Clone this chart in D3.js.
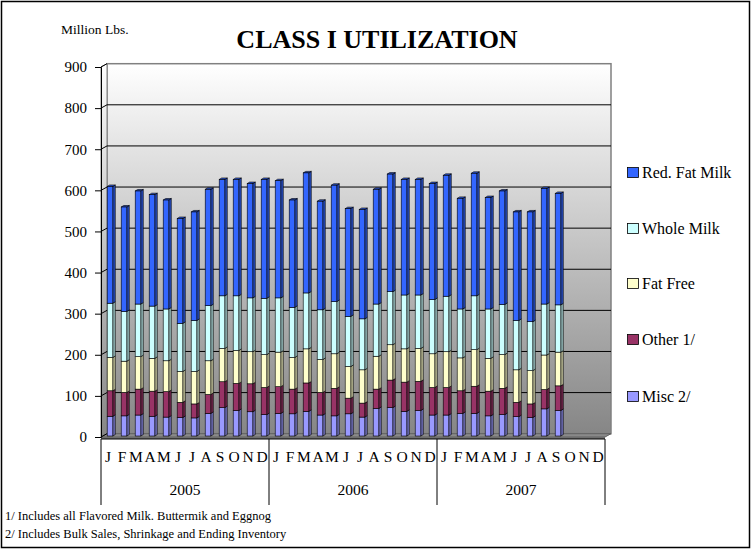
<!DOCTYPE html>
<html>
<head>
<script src="https://d3js.org/d3.v7.min.js"></script>
<style>
  body { margin: 0; background: #fff; }
  svg text { font-family: "Liberation Serif", "DejaVu Serif", serif !important; fill: #000; }
</style>
</head>
<body>
<div id="chart"></div>
<script>
// data (million lbs), Jan 2005 .. Sep 2007
const years = ["2005", "2006", "2007"];
const monthLetters = ["J","F","M","A","M","J","J","A","S","O","N","D"];
const yTicks = [0, 100, 200, 300, 400, 500, 600, 700, 800, 900];
const seriesNames = ["Misc 2/", "Other 1/", "Fat Free", "Whole Milk", "Red. Fat Milk"];
const seriesColors = ["#9999ff", "#993366", "#ffffcc", "#ccffff", "#3366ff"];

const misc      = [48,49,51,48,46,45,44,55,69,62,59,52, 55,54,60,51,49,54,46,67,69,60,62,51, 51,55,55,49,52,47,45,66,62];
const other     = [62,57,63,61,62,37,34,46,63,66,68,66, 65,60,69,55,67,38,34,47,67,71,71,67, 67,55,66,60,64,35,33,47,60];
const fatFree   = [81,76,79,80,75,75,79,82,81,80,78,80, 84,77,83,80,84,77,81,80,86,81,80,82, 87,80,89,80,82,79,81,84,82];
const wholeMilk = [132,121,128,127,126,117,124,134,128,133,131,137, 132,122,136,121,127,122,124,127,129,131,130,132, 135,119,131,120,122,120,119,124,115];
const redFat    = [284,254,275,271,265,255,264,283,283,283,278,289, 285,261,292,264,283,262,266,279,286,281,281,282, 294,269,298,271,276,264,267,281,271];

const width = 751, height = 550;
const depthX = 6, depthY = -3.3;      // offset of the back wall
const barDX = 2.5, barDY = -1.5;      // bar side/top depth

const svg = d3.select("#chart").append("svg")
  .attr("width", width).attr("height", height)
  .attr("font-family", "Liberation Serif, serif");

const defs = svg.append("defs");
const grad = defs.append("linearGradient").attr("id", "wall")
  .attr("x1", 0).attr("y1", 0).attr("x2", 0).attr("y2", 1);
grad.append("stop").attr("offset", "0%").attr("stop-color", "#ffffff");
grad.append("stop").attr("offset", "100%").attr("stop-color", "#868686");

// outer frame
svg.append("rect").attr("x", 1.5).attr("y", 1.5).attr("width", width - 3).attr("height", height - 4)
  .attr("fill", "none").attr("stroke", "#000").attr("stroke-width", 1.5);

const y = d3.scaleLinear().domain([0, 900]).range([437, 67]);
const x = d3.scaleBand().domain(d3.range(36)).range([101, 605]);

const x0 = x.range()[0], x1 = x.range()[1];
const yTop = y(900), yBot = y(0);

// back wall
svg.append("rect")
  .attr("x", x0 + depthX).attr("y", yTop + depthY)
  .attr("width", x1 - x0).attr("height", yBot - yTop)
  .attr("fill", "url(#wall)").attr("stroke", "#808080").attr("stroke-width", 1.5);

// left side wall
svg.append("path")
  .attr("d", `M${x0},${yTop}L${x0 + depthX},${yTop + depthY}L${x0 + depthX},${yBot + depthY}L${x0},${yBot}Z`)
  .attr("fill", "url(#wall)").attr("stroke", "#808080").attr("stroke-width", 1);

// floor
svg.append("path")
  .attr("d", `M${x0},${yBot}L${x0 + depthX},${yBot + depthY}L${x1 + depthX},${yBot + depthY}L${x1},${yBot}Z`)
  .attr("fill", "#8a8a8a").attr("stroke", "#606060").attr("stroke-width", 1);
svg.append("rect").attr("x", x0).attr("y", yBot).attr("width", x1 - x0).attr("height", 2)
  .attr("fill", "#6e6e6e");

// gridlines
yTicks.filter(v => v > 0 && v < 900).forEach(v => {
  svg.append("line")
    .attr("x1", x0 + depthX).attr("x2", x1 + depthX)
    .attr("y1", y(v) + depthY).attr("y2", y(v) + depthY)
    .attr("stroke", "#000").attr("stroke-width", 1);
});
yTicks.forEach(v => {
  svg.append("line")
    .attr("x1", x0).attr("y1", y(v))
    .attr("x2", x0 + depthX).attr("y2", y(v) + depthY)
    .attr("stroke", "#000").attr("stroke-width", 1);
});

// y axis
const yAxis = svg.append("g")
  .attr("transform", `translate(${x0},0)`)
  .call(d3.axisLeft(y).tickValues(yTicks).tickSize(6).tickPadding(8));
yAxis.attr("font-family", null);
yAxis.select(".domain").attr("stroke", "#000");
yAxis.selectAll("line").attr("stroke", "#000");
yAxis.selectAll("text").style("font-size", "15px");

// stacked bars
const table = misc.map((d, i) => ({
  i: i, "Misc 2/": misc[i], "Other 1/": other[i], "Fat Free": fatFree[i],
  "Whole Milk": wholeMilk[i], "Red. Fat Milk": redFat[i]
}));
const stack = d3.stack().keys(seriesNames)(table);
const color = d3.scaleOrdinal().domain(seriesNames).range(seriesColors);
const barW = 5.6;

stack.forEach((layer, li) => {
  const g = svg.append("g");
  const c = color(layer.key);
  const side = d3.color(c).darker(0.9).formatHex();
  const top = d3.color(c).darker(0.5).formatHex();
  layer.forEach(seg => {
    const i = seg.data.i;
    const bx = x(i) + x.bandwidth() / 2 + 2 - barW / 2;
    const y0 = y(seg[0]) - 1, y1 = y(seg[1]) - 1;
    g.append("path")
      .attr("d", `M${bx + barW},${y1}L${bx + barW + barDX},${y1 + barDY}L${bx + barW + barDX},${y0 + barDY}L${bx + barW},${y0}Z`)
      .attr("fill", side).attr("stroke", "#000").attr("stroke-width", 0.6);
    if (li === stack.length - 1) {
      g.append("path")
        .attr("d", `M${bx},${y1}L${bx + barDX},${y1 + barDY}L${bx + barW + barDX},${y1 + barDY}L${bx + barW},${y1}Z`)
        .attr("fill", top).attr("stroke", "#000").attr("stroke-width", 0.6);
    }
    g.append("rect")
      .attr("x", bx).attr("y", y1).attr("width", barW).attr("height", y0 - y1)
      .attr("fill", c).attr("stroke", "#000").attr("stroke-width", 0.6);
  });
});

// category axis: months and years
svg.append("line").attr("x1", x0).attr("x2", x1).attr("y1", yBot + 2).attr("y2", yBot + 2)
  .attr("stroke", "#000");
d3.range(36).forEach(i => {
  svg.append("text")
    .attr("x", x(i) + x.bandwidth() / 2).attr("y", 462)
    .attr("text-anchor", "middle").style("font-size", "15.5px")
    .text(monthLetters[i % 12]);
});
const yearW = (x1 - x0) / 3;
d3.range(4).forEach(k => {
  svg.append("line")
    .attr("x1", x0 + k * yearW).attr("x2", x0 + k * yearW)
    .attr("y1", yBot + 2).attr("y2", 505)
    .attr("stroke", "#000");
});
years.forEach((yr, k) => {
  svg.append("text")
    .attr("x", x0 + (k + 0.5) * yearW).attr("y", 495)
    .attr("text-anchor", "middle").style("font-size", "15.5px")
    .text(yr);
});

// titles
svg.append("text").attr("x", 377).attr("y", 48).attr("text-anchor", "middle")
  .style("font-size", "26px").style("font-weight", "bold").text("CLASS I UTILIZATION");
svg.append("text").attr("x", 61).attr("y", 34).style("font-size", "13.5px").text("Million Lbs.");

// legend
const legendY = [173, 229, 284, 340, 397];
seriesNames.slice().reverse().forEach((name, k) => {
  svg.append("rect").attr("x", 627.5).attr("y", legendY[k] - 5.5).attr("width", 11).attr("height", 10)
    .attr("fill", color(name)).attr("stroke", "#000").attr("stroke-width", 0.8);
  svg.append("text").attr("x", 642).attr("y", legendY[k] + 5)
    .style("font-size", "16px").text(name);
});

// footnotes
svg.append("text").attr("x", 5).attr("y", 520).style("font-size", "12.5px")
  .text("1/  Includes all Flavored Milk. Buttermik and Eggnog");
svg.append("text").attr("x", 5).attr("y", 538).style("font-size", "12.5px")
  .text("2/  Includes Bulk Sales, Shrinkage and Ending Inventory");
</script>
</body>
</html>
